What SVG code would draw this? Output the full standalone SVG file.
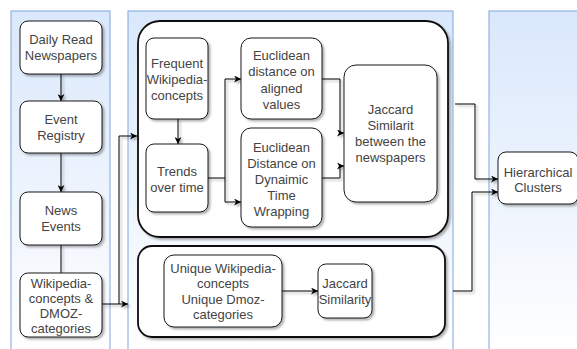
<svg xmlns="http://www.w3.org/2000/svg" width="577" height="349" viewBox="0 0 577 349">
  <defs>
    <linearGradient id="laneFill" x1="0" y1="0" x2="0" y2="1">
      <stop offset="0" stop-color="#dae8fc"/>
      <stop offset="1" stop-color="#ffffff"/>
    </linearGradient>
    <filter id="shadow" x="-10%" y="-10%" width="130%" height="130%">
      <feDropShadow dx="2" dy="2" stdDeviation="1" flood-color="#000" flood-opacity="0.3"/>
    </filter>
    <marker id="arrow" viewBox="0 0 10 10" refX="10" refY="5" markerWidth="7" markerHeight="7" markerUnits="userSpaceOnUse" orient="auto">
      <path d="M0,0 L10,5 L0,10 L3,5 Z" fill="#000"/>
    </marker>
    <style>
      .lane { fill: url(#laneFill); stroke: #7ea6e0; stroke-width: 1; }
      .node { fill: #ffffff; stroke: #1a1a1a; stroke-width: 1; filter: url(#shadow); }
      .group { fill: #ffffff; stroke: #111111; stroke-width: 1.8; filter: url(#shadow); }
      .label { font-family: "Liberation Sans", Arial, sans-serif; font-size: 13px; fill: #444444; text-anchor: middle; }
      .link { fill: none; stroke: #000; stroke-width: 1; }
      .arr { marker-end: url(#arrow); }
    </style>
  </defs>

  <!-- swimlanes -->
  <g id="lanes">
    <rect class="lane" x="11" y="11" width="99" height="345"/>
    <rect class="lane" x="128" y="11" width="325" height="345"/>
    <rect class="lane" x="489" y="11" width="100" height="345"/>
  </g>

  <!-- container boxes -->
  <g id="time-analysis">
    <rect class="group" x="138" y="21" width="310" height="216" rx="22"/>
  </g>
  <g id="set-analysis">
    <rect class="group" x="138" y="246" width="307" height="91" rx="14"/>
  </g>

  <!-- connectors -->
  <g id="connectors" filter="url(#shadow)">
    <path class="link arr" d="M61,74 V101"/>
    <path class="link arr" d="M61,153 V192"/>
    <path class="link" d="M61,245 V273"/>
    <path class="link arr" d="M102,304 H128"/>
    <path class="link arr" d="M119,304 V136 H137"/>
    <path class="link arr" d="M178,119 V144"/>
    <path class="link arr" d="M208,178 H225 V79 H241"/>
    <path class="link arr" d="M225,178 V202 H241"/>
    <path class="link arr" d="M322,79 H340 V133 H344"/>
    <path class="link arr" d="M322,178 H340 V166 H344"/>
    <path class="link arr" d="M282,291 H318"/>
    <path class="link arr" d="M455,104 H475 V179 H498"/>
    <path class="link arr" d="M453,291 H472 V192 H498"/>
  </g>

  <g id="daily-read-newspapers">
    <rect class="node" x="20" y="21" width="82" height="53" rx="8"/>
    <text class="label" x="61" y="44">Daily Read</text>
    <text class="label" x="61" y="60">Newspapers</text>
  </g>
  <g id="event-registry">
    <rect class="node" x="20" y="101" width="82" height="52" rx="8"/>
    <text class="label" x="61" y="123.5">Event</text>
    <text class="label" x="61" y="139.5">Registry</text>
  </g>
  <g id="news-events">
    <rect class="node" x="20" y="192" width="82" height="53" rx="8"/>
    <text class="label" x="61" y="215">News</text>
    <text class="label" x="61" y="231">Events</text>
  </g>
  <g id="wikipedia-dmoz">
    <rect class="node" x="20" y="273" width="82" height="64" rx="8"/>
    <text class="label" x="61" y="288">Wikipedia-</text>
    <text class="label" x="61" y="303">concepts &amp;</text>
    <text class="label" x="61" y="318">DMOZ-</text>
    <text class="label" x="61" y="333">categories</text>
  </g>

  <g id="frequent-concepts">
    <rect class="node" x="146" y="38" width="62" height="81" rx="8"/>
    <text class="label" x="177" y="67.5">Frequent</text>
    <text class="label" x="177" y="83.5">Wikipedia-</text>
    <text class="label" x="177" y="99.5">concepts</text>
  </g>
  <g id="trends">
    <rect class="node" x="146" y="144" width="62" height="68" rx="8"/>
    <text class="label" x="177" y="175.5">Trends</text>
    <text class="label" x="177" y="191.5">over time</text>
  </g>
  <g id="euclidean-aligned">
    <rect class="node" x="241" y="38" width="81" height="81" rx="10"/>
    <text class="label" x="281.5" y="59.5">Euclidean</text>
    <text class="label" x="281.5" y="76">distance on</text>
    <text class="label" x="281.5" y="92.5">aligned</text>
    <text class="label" x="281.5" y="108.5">values</text>
  </g>
  <g id="euclidean-dtw">
    <rect class="node" x="241" y="128" width="81" height="99" rx="10"/>
    <text class="label" x="281.5" y="151.5">Euclidean</text>
    <text class="label" x="281.5" y="167.5">Distance on</text>
    <text class="label" x="281.5" y="183.5">Dynaimic</text>
    <text class="label" x="281.5" y="199.5">Time</text>
    <text class="label" x="281.5" y="215.5">Wrapping</text>
  </g>
  <g id="jaccard-newspapers">
    <rect class="node" x="344" y="65" width="93" height="137" rx="12"/>
    <text class="label" x="390.5" y="113.5">Jaccard</text>
    <text class="label" x="390.5" y="129.5">Similarit</text>
    <text class="label" x="390.5" y="146">between the</text>
    <text class="label" x="390.5" y="161.5">newspapers</text>
  </g>

  <g id="unique-sets">
    <rect class="node" x="164" y="255" width="118" height="72" rx="10"/>
    <text class="label" x="223" y="272.5">Unique Wikipedia-</text>
    <text class="label" x="223" y="288">concepts</text>
    <text class="label" x="223" y="303.5">Unique Dmoz-</text>
    <text class="label" x="223" y="319">categories</text>
  </g>
  <g id="jaccard-similarity">
    <rect class="node" x="318" y="264" width="54" height="54" rx="8"/>
    <text class="label" x="345" y="287.5">Jaccard</text>
    <text class="label" x="345" y="304">Similarity</text>
  </g>

  <g id="hierarchical-clusters">
    <rect class="node" x="498" y="152" width="80" height="52" rx="8"/>
    <text class="label" x="538" y="176.5">Hierarchical</text>
    <text class="label" x="538" y="191.5">Clusters</text>
  </g>
</svg>
